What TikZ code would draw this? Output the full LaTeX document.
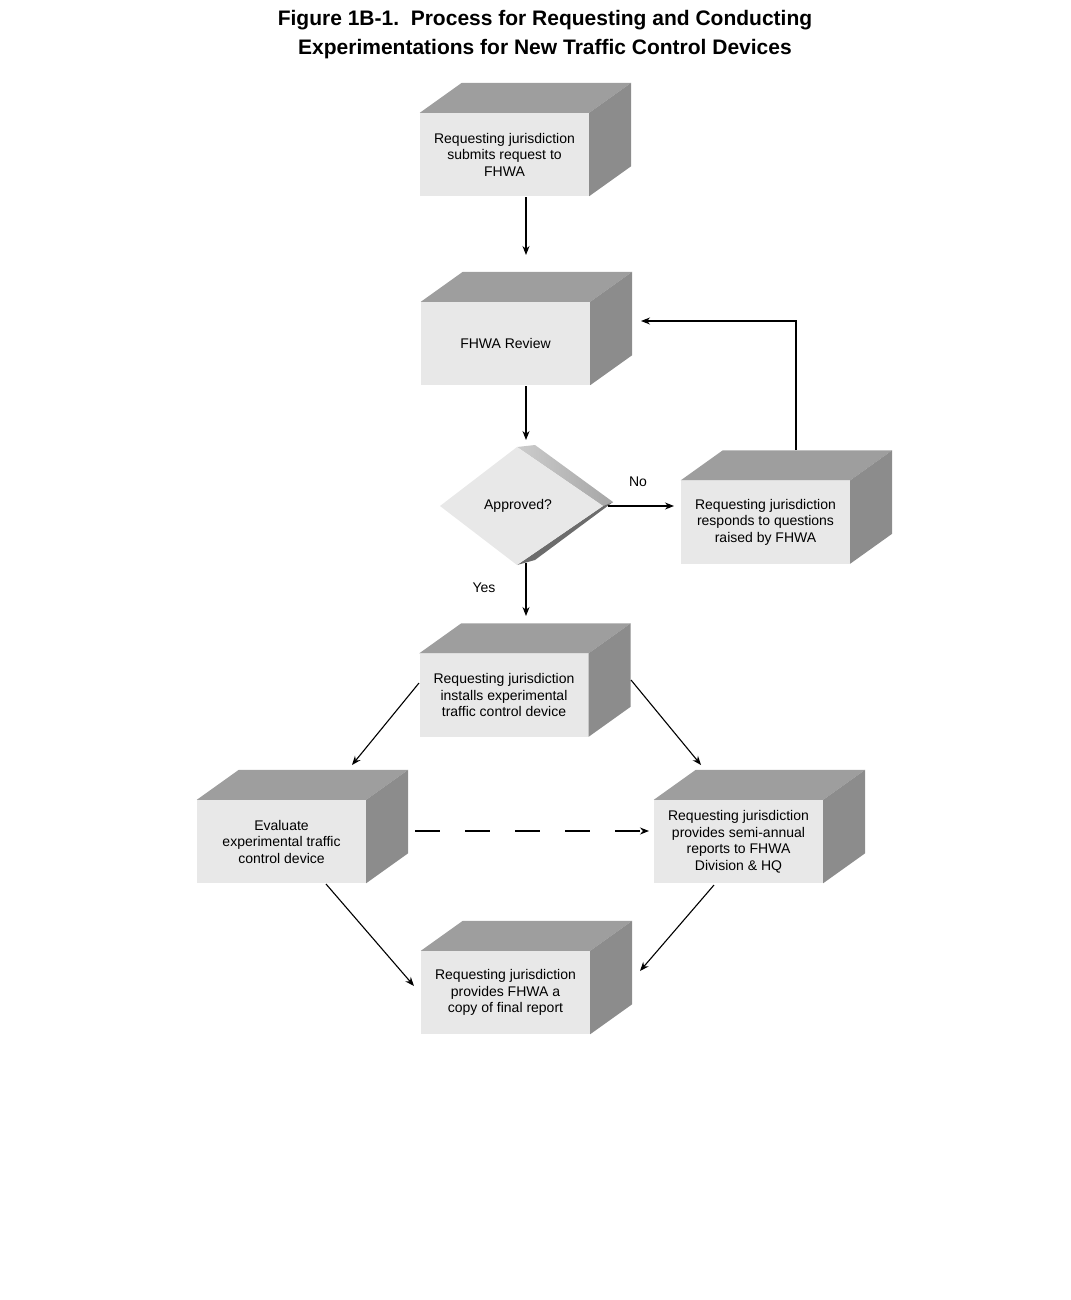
\documentclass[tikz,border=0pt]{standalone}
\usepackage{fontspec}
\setmainfont{Liberation Sans}
\usetikzlibrary{arrows.meta}
\definecolor{front}{gray}{0.91}
\definecolor{topc}{gray}{0.62}
\definecolor{sidec}{gray}{0.55}
\tikzset{
  face/.style={fill=front, draw=none, minimum width=169pt, minimum height=83pt, align=center, font=\fontsize{14}{16.5}\selectfont, inner sep=0pt},
  arr/.style={-{Stealth[length=9pt,width=7pt]}, line width=1.1pt},
  lbl/.style={font=\fontsize{14}{16}\selectfont}
}
\newcommand\mycube[4]{%
  \node[face] (#1) at (#2,#3) {#4};
  \fill[topc] (#1.north west) -- ++(42,-30) -- ($(#1.north east)+(42,-30)$) -- (#1.north east) -- cycle;
  \fill[sidec] (#1.north east) -- ++(42,-30) -- ($(#1.south east)+(42,-30)$) -- (#1.south east) -- cycle;
}
\usetikzlibrary{calc}
\begin{document}
\begin{tikzpicture}[x=1pt,y=-1pt]
\useasboundingbox (0,0) rectangle (1070,1300);
\node[font=\bfseries\fontsize{21}{29}\selectfont, align=center] (title) at (545,35) {Figure 1B-1.\ \ Process for Requesting and Conducting\\Experimentations for New Traffic Control Devices};
\mycube{b1}{504.5}{154.5}{Requesting jurisdiction\\submits request to\\FHWA}
\mycube{b2}{505.5}{343.5}{FHWA Review}
\mycube{b3}{765.5}{522}{Requesting jurisdiction\\responds to questions\\raised by FHWA}
\mycube{b4}{504}{695}{Requesting jurisdiction\\installs experimental\\traffic control device}
\mycube{b5}{281.5}{841.5}{Evaluate\\experimental traffic\\control device}
\mycube{b6}{738.5}{841.5}{Requesting jurisdiction\\provides semi-annual\\reports to FHWA\\Division \& HQ}
\mycube{b7}{505.5}{992.5}{Requesting jurisdiction\\provides FHWA a\\copy of final report}
% diamond
\coordinate (dl) at (440,506); \coordinate (dt) at (517,447);
\coordinate (dr) at (603,506); \coordinate (db) at (517,565);
\shade[left color=gray!40, right color=gray!70] (dt) -- (535,445) -- (613,502) -- (dr) -- cycle;
\fill[gray!85!black] (dr) -- (613,502) -- (535,560) -- (db) -- cycle;
\fill[front] (dl) -- (dt) -- (dr) -- (db) -- cycle;
\node[lbl] (dia) at (518,506) {Approved?};
% connectors
\coordinate (a1s) at (526,197); \coordinate (a1e) at (526,255);
\draw[arr] (a1s) -- (a1e);
\coordinate (a2s) at (526,386); \coordinate (a2e) at (526,440);
\draw[arr] (a2s) -- (a2e);
\coordinate (a3s) at (608,506); \coordinate (a3e) at (674,506);
\draw[arr] (a3s) -- (a3e);
\node[lbl] (no) at (638,482) {No};
\coordinate (a4s) at (796,450); \coordinate (a4m) at (796,321); \coordinate (a4e) at (641,321);
\draw[arr] (a4s) -- (a4m) -- (a4e);
\coordinate (a5s) at (526,563); \coordinate (a5e) at (526,616);
\draw[arr] (a5s) -- (a5e);
\node[lbl] (yes) at (484,588) {Yes};
\coordinate (a6s) at (419,683); \coordinate (a6e) at (352,765);
\draw[arr] (a6s) -- (a6e);
\coordinate (a7s) at (631,680); \coordinate (a7e) at (701,765);
\draw[arr] (a7s) -- (a7e);
\coordinate (a8s) at (415,831); \coordinate (a8e) at (649,831);
\draw[arr, dash pattern=on 25pt off 25pt] (a8s) -- (a8e);
\coordinate (a9s) at (326,884); \coordinate (a9e) at (414,986);
\draw[arr] (a9s) -- (a9e);
\coordinate (a10s) at (714,885); \coordinate (a10e) at (640,971);
\draw[arr] (a10s) -- (a10e);
\end{tikzpicture}
\end{document}
